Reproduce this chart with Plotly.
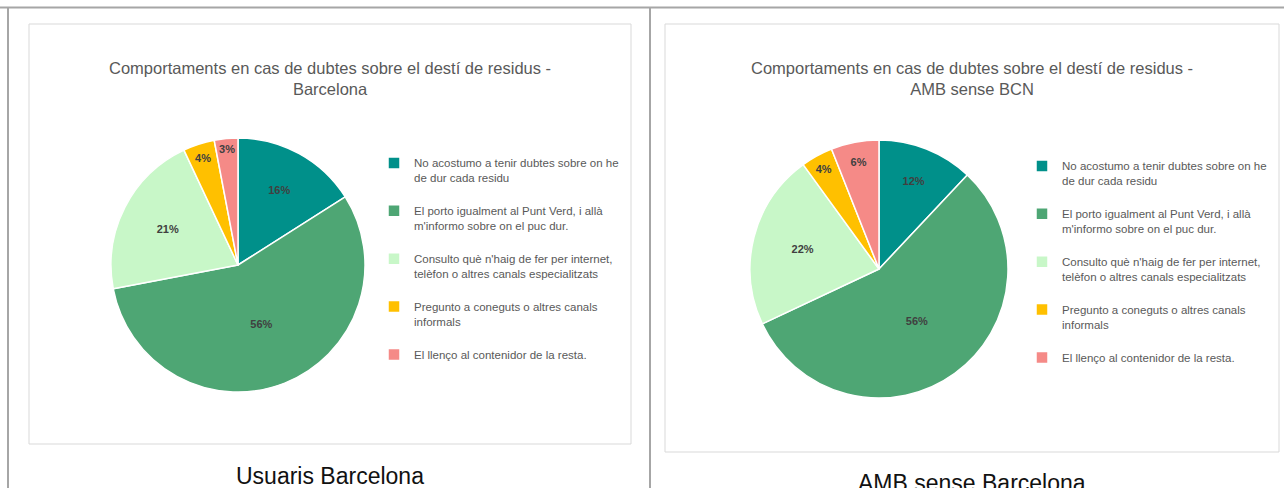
import plotly.graph_objects as go

W, H = 1284, 488

# categories (legend text, with the same line breaks as the reference)
categories = [
    "No acostumo a tenir dubtes sobre on he<br>de dur cada residu",
    "El porto igualment al Punt Verd, i allà<br>m'informo sobre on el puc dur.",
    "Consulto què n'haig de fer per internet,<br>telèfon o altres canals especialitzats",
    "Pregunto a coneguts o altres canals<br>informals",
    "El llenço al contenidor de la resta.",
]
valors_bcn = [16, 56, 21, 4, 3]
valors_amb = [12, 56, 22, 4, 6]

titol_bcn = "Comportaments en cas de dubtes sobre el destí de residus -<br>Barcelona"
titol_amb = "Comportaments en cas de dubtes sobre el destí de residus -<br>AMB sense BCN"
peu_bcn = "Usuaris Barcelona"
peu_amb = "AMB sense Barcelona"

colors = ["#00908a", "#4ea674", "#c8f7c8", "#ffc000", "#f58a87"]

FONT = "Arial, Liberation Sans, sans-serif"


def px(x):
    return x / W


def py(y):
    return 1 - y / H


# blank line after each 2-line entry, to get the spacing of the reference
noms = [c + "<br> " if "<br>" in c else c for c in categories]
# plotly merges equal pie labels into one legend; a zero-width space keeps
# the second chart's entries apart so it gets its own legend
noms_amb = [n + "\u200b" for n in noms]

fig = go.Figure()

for valors, etiquetes, dom, leg in [
    (valors_bcn, noms, ((111, 365), (138, 392)), "legend"),
    (valors_amb, noms_amb, ((750, 1008), (140, 398)), "legend2"),
]:
    fig.add_trace(go.Pie(
        labels=etiquetes,
        values=valors,
        sort=False,
        direction="clockwise",
        rotation=0,
        marker=dict(colors=colors, line=dict(color="white", width=1.5)),
        texttemplate="%{percent:.0%}",
        textposition="inside",
        insidetextorientation="horizontal",
        textfont=dict(family=FONT, size=11, color="#404040", weight="bold"),
        hoverinfo="label+percent",
        domain=dict(x=[px(dom[0][0]), px(dom[0][1])],
                    y=[py(dom[1][1]), py(dom[1][0])]),
        legend=leg,
        showlegend=True,
    ))

legend_style = dict(
    font=dict(family=FONT, size=11.5, color="#595959"),
    bgcolor="rgba(0,0,0,0)",
    valign="top",
    itemwidth=30,
    itemclick=False,
    itemdoubleclick=False,
    xanchor="left",
    yanchor="top",
)

fig.update_layout(
    width=W,
    height=H,
    margin=dict(l=0, r=0, t=0, b=0),
    paper_bgcolor="white",
    plot_bgcolor="white",
    uniformtext_minsize=11,
    uniformtext_mode="show",
    legend=dict(x=px(374), y=py(149), **legend_style),
    legend2=dict(x=px(1022), y=py(152), **legend_style),
)

# table lines and chart frames
linies = [
    dict(x0=0, x1=W, y0=7.5, y1=7.5, color="#a6a6a6", width=2),
    dict(x0=8, x1=8, y0=7, y1=H, color="#a6a6a6", width=2),
    dict(x0=650, x1=650, y0=7, y1=H, color="#a6a6a6", width=2),
]
for l in linies:
    fig.add_shape(type="line", xref="paper", yref="paper",
                  x0=px(l["x0"]), x1=px(l["x1"]), y0=py(l["y0"]), y1=py(l["y1"]),
                  line=dict(color=l["color"], width=l["width"]), layer="above")

for x0, y0, x1, y1 in [(29, 24, 631, 444), (665, 24, 1279, 452)]:
    fig.add_shape(type="rect", xref="paper", yref="paper",
                  x0=px(x0), x1=px(x1), y0=py(y1), y1=py(y0),
                  line=dict(color="#d9d9d9", width=1), layer="below")

# chart titles
for text, cx in [(titol_bcn, 330), (titol_amb, 972)]:
    fig.add_annotation(text=text, x=px(cx), y=py(78), xref="paper", yref="paper",
                       showarrow=False, xanchor="center", yanchor="middle",
                       font=dict(family=FONT, size=16.5, color="#595959"))

# captions below each chart
for text, cx, cy in [(peu_bcn, 330, 476), (peu_amb, 972, 483)]:
    fig.add_annotation(text=text, x=px(cx), y=py(cy), xref="paper", yref="paper",
                       showarrow=False, xanchor="center", yanchor="middle",
                       font=dict(family=FONT, size=23, color="#111111"))

fig.write_html("out.html", config={"displayModeBar": False},
               post_script="document.body.style.margin='0';")
